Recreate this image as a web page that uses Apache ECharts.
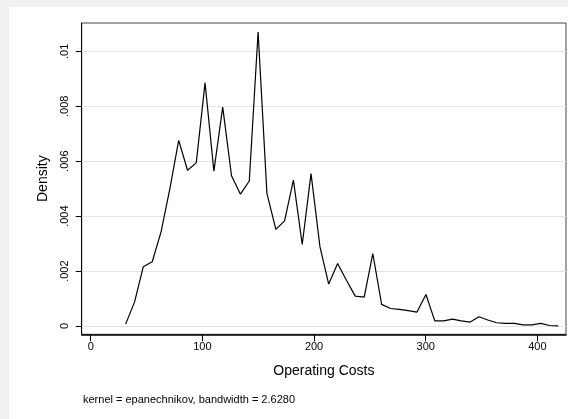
<!DOCTYPE html>
<html>
<head>
<meta charset="utf-8">
<script src="https://cdn.jsdelivr.net/npm/echarts@6/dist/echarts.min.js"></script>
<style>
  html, body { margin: 0; padding: 0; background: #ffffff; }
  #chart { width: 568px; height: 419px; }
</style>
</head>
<body>
<div id="chart"></div>
<script>
// Kernel density estimate of operating costs (50 evaluation points)
const costPoints = [31.3, 39.3, 47.1, 55.1, 63.0, 70.9, 78.8, 86.7, 94.5, 102.4,
  110.3, 118.2, 126.1, 134.1, 142.0, 149.9, 157.8, 165.8, 173.6, 181.5,
  189.4, 197.3, 205.3, 213.1, 221.1, 229.0, 236.9, 244.9, 252.6, 260.5,
  268.5, 276.3, 284.3, 292.2, 300.2, 308.1, 316.1, 324.0, 331.9, 339.8,
  347.7, 355.6, 363.5, 371.4, 379.3, 387.2, 395.1, 403.0, 410.9, 418.6];
const densityValues = [0.00007, 0.00088, 0.00216, 0.00234, 0.00343, 0.00500, 0.00676, 0.00567, 0.00594, 0.00885,
  0.00564, 0.00797, 0.00547, 0.00480, 0.00528, 0.01070, 0.00483, 0.00352, 0.00383, 0.00531,
  0.00297, 0.00555, 0.00288, 0.00153, 0.00228, 0.00167, 0.00109, 0.00105, 0.00264, 0.00079,
  0.00064, 0.00061, 0.00056, 0.00051, 0.00115, 0.00019, 0.00019, 0.00025, 0.00019, 0.000145,
  0.00034, 0.00022, 0.00012, 0.00010, 0.00010, 0.00004, 0.00004, 0.00010, 0.00002, 0.00001];

const xTicks = [0, 100, 200, 300, 400];
const yTicks = [0, 0.002, 0.004, 0.006, 0.008, 0.01];
const yTickLabels = ['0', '.002', '.004', '.006', '.008', '.01'];

const xTitle = 'Operating Costs';
const yTitle = 'Density';
const note = 'kernel = epanechnikov, bandwidth = 2.6280';

const FONT = 'Liberation Sans, Arial, sans-serif';

const chart = echarts.init(document.getElementById('chart'), null, { renderer: 'canvas' });

const seriesData = costPoints.map((x, i) => [x, densityValues[i]]);

chart.setOption({
  animation: false,
  backgroundColor: '#f0f1f1',
  textStyle: { fontFamily: FONT },
  graphic: [
    {
      type: 'rect', z: -10, silent: true,
      shape: { x: 9, y: 7, width: 568, height: 419 },
      style: { fill: '#ffffff' }
    },
    {
      type: 'text', left: 83, top: 394, silent: true,
      style: { text: note, fontSize: 11, fontFamily: FONT, fill: '#000000' }
    }
  ],
  grid: {
    left: 81.7, top: 23, right: 2, bottom: 84.7,
    show: true, borderColor: '#444444', borderWidth: 1, backgroundColor: '#ffffff'
  },
  xAxis: {
    type: 'value',
    min: -8.06, max: 425.6,
    name: xTitle, nameLocation: 'middle', nameGap: 30,
    nameTextStyle: { fontSize: 14, color: '#000', fontFamily: FONT },
    axisLine: { show: true, onZero: false, lineStyle: { color: '#000', width: 1.5 } },
    axisTick: { show: true, length: 7, customValues: xTicks, lineStyle: { color: '#000' } },
    axisLabel: {
      customValues: xTicks, margin: 7, fontSize: 11, color: '#000', fontFamily: FONT,
      formatter: v => String(v)
    },
    splitLine: { show: false }
  },
  yAxis: {
    type: 'value',
    min: -0.0003, max: 0.01103,
    name: yTitle, nameLocation: 'middle', nameGap: 32, nameRotate: 90,
    nameTextStyle: { fontSize: 14, color: '#000', fontFamily: FONT },
    axisLine: { show: true, onZero: false, lineStyle: { color: '#000', width: 1 } },
    axisTick: { show: true, length: 6, customValues: yTicks, lineStyle: { color: '#000' } },
    axisLabel: {
      customValues: yTicks, rotate: 90, margin: 11, fontSize: 11, color: '#000', fontFamily: FONT,
      formatter: v => yTickLabels[yTicks.findIndex(t => Math.abs(t - v) < 1e-9)] ?? ''
    },
    splitLine: { show: true, lineStyle: { color: '#e3e3e3', width: 1 } }
  },
  series: [{
    type: 'line',
    data: seriesData,
    showSymbol: false,
    symbol: 'none',
    lineStyle: { color: '#000000', width: 1.2 },
    z: 5
  }]
});
</script>
</body>
</html>
